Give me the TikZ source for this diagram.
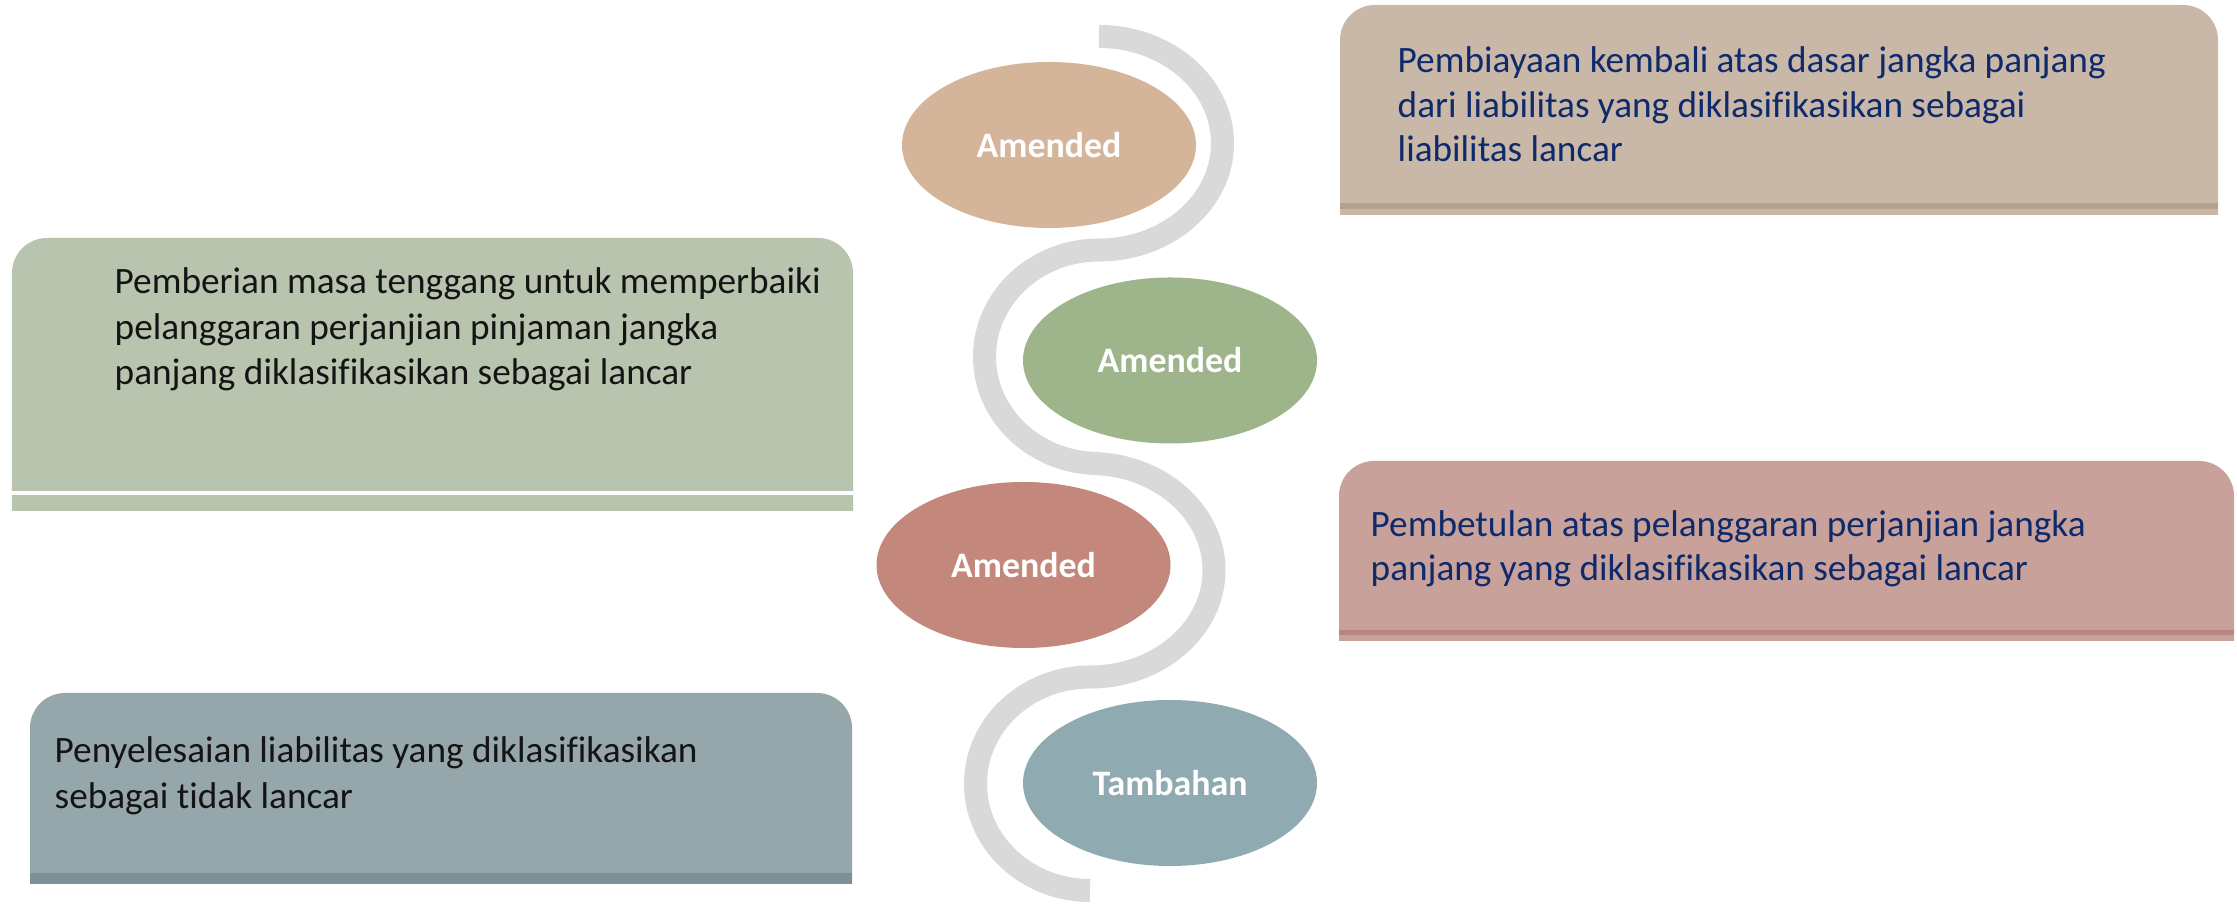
\documentclass[tikz,border=0pt]{standalone}
\usepackage{fontspec}
\setmainfont{Carlito}[Ligatures={NoCommon}]
\usetikzlibrary{shapes.geometric}
\definecolor{trbody}{HTML}{C9B8A8}
\definecolor{trband}{HTML}{B6A08C}
\definecolor{lgbody}{HTML}{B9C4AF}
\definecolor{blbody}{HTML}{95A7AB}
\definecolor{blband}{HTML}{7B9195}
\definecolor{rmbody}{HTML}{C8A29A}
\definecolor{rmband}{HTML}{B9867F}
\definecolor{eone}{HTML}{D4B59A}
\definecolor{etwo}{HTML}{9EB48A}
\definecolor{ethree}{HTML}{C3877C}
\definecolor{efour}{HTML}{8FABB1}
\definecolor{sgray}{HTML}{D9D9D9}
\definecolor{navytxt}{HTML}{0F2A6B}
\definecolor{blacktxt}{HTML}{141414}
\begin{document}
\begin{tikzpicture}[
  bubble/.style={ellipse, minimum width=2.94cm, minimum height=1.66cm, inner sep=0pt,
    text=white, font=\fontsize{10.2}{12}\selectfont\bfseries},
  boxtext/.style={anchor=base west, inner sep=0pt, font=\fontsize{10.6}{13}\selectfont},
  navytext/.style={boxtext, text=navytxt},
  darktext/.style={boxtext, text=blacktxt},
  sband/.style={draw=sgray, line width=0.23cm, line cap=butt}
]
\useasboundingbox (0,0) rectangle (22.37,9.04);
\fill[white] (0,0) rectangle (22.37,9.04);

% ---- top right box
\fill[trbody] (13.40,6.89) -- (13.40,8.64) arc[start angle=180,end angle=90,radius=0.35]
  -- (21.83,8.99) arc[start angle=90,end angle=0,radius=0.35] -- (22.18,6.89) -- cycle;
\fill[trband] (13.40,6.95) rectangle (22.18,7.01);

% ---- left green box
\fill[lgbody] (0.12,3.93) -- (0.12,6.31) arc[start angle=180,end angle=90,radius=0.35]
  -- (8.18,6.66) arc[start angle=90,end angle=0,radius=0.35] -- (8.53,3.93) -- cycle;
\fill[white] (0.12,4.09) rectangle (8.53,4.13);

% ---- bottom left box
\fill[blbody] (0.30,0.20) -- (0.30,1.76) arc[start angle=180,end angle=90,radius=0.35]
  -- (8.17,2.11) arc[start angle=90,end angle=0,radius=0.35] -- (8.52,0.20) -- cycle;
\fill[blband] (0.30,0.20) rectangle (8.52,0.31);

% ---- right middle box
\fill[rmbody] (13.39,2.63) -- (13.39,4.08) arc[start angle=180,end angle=90,radius=0.35]
  -- (21.99,4.43) arc[start angle=90,end angle=0,radius=0.35] -- (22.34,2.63) -- cycle;
\fill[rmband] (13.39,2.69) rectangle (22.34,2.74);

% ---- grey S band
\draw[sband] (10.99,8.675) arc[start angle=90,end angle=-90,x radius=1.235cm,y radius=1.0675cm];
\draw[sband] (10.99,6.54) arc[start angle=90,end angle=270,x radius=1.145cm,y radius=1.0675cm];
\draw[sband] (10.90,4.405) arc[start angle=90,end angle=-90,x radius=1.24cm,y radius=1.0675cm];
\draw[sband] (10.90,2.27) arc[start angle=90,end angle=270,x radius=1.145cm,y radius=1.0675cm];

% ---- ellipses
\node[bubble, fill=eone]   (e1) at (10.49,7.59)  {Amended};
\node[bubble, fill=etwo]   (e2) at (11.70,5.435) {Amended};
\node[bubble, fill=ethree] (e3) at (10.235,3.39) {Amended};
\node[bubble, fill=efour]  (e4) at (11.70,1.21)  {Tambahan};

% ---- texts
\node[navytext] (tr1) at (13.97,8.31) {Pembiayaan kembali atas dasar jangka panjang};
\node[navytext] (tr2) at (13.97,7.86) {dari liabilitas yang diklasifikasikan sebagai};
\node[navytext] (tr3) at (13.97,7.42) {liabilitas lancar};

\node[darktext] (lg1) at (1.14,6.10) {Pemberian masa tenggang untuk memperbaiki};
\node[darktext] (lg2) at (1.14,5.64) {pelanggaran perjanjian pinjaman jangka};
\node[darktext] (lg3) at (1.14,5.19) {panjang diklasifikasikan sebagai lancar};

\node[darktext] (bl1) at (0.54,1.41) {Penyelesaian liabilitas yang diklasifikasikan};
\node[darktext] (bl2) at (0.54,0.95) {sebagai tidak lancar};

\node[navytext] (rm1) at (13.70,3.67) {Pembetulan atas pelanggaran perjanjian jangka};
\node[navytext] (rm2) at (13.70,3.23) {panjang yang diklasifikasikan sebagai lancar};
\end{tikzpicture}
\end{document}
